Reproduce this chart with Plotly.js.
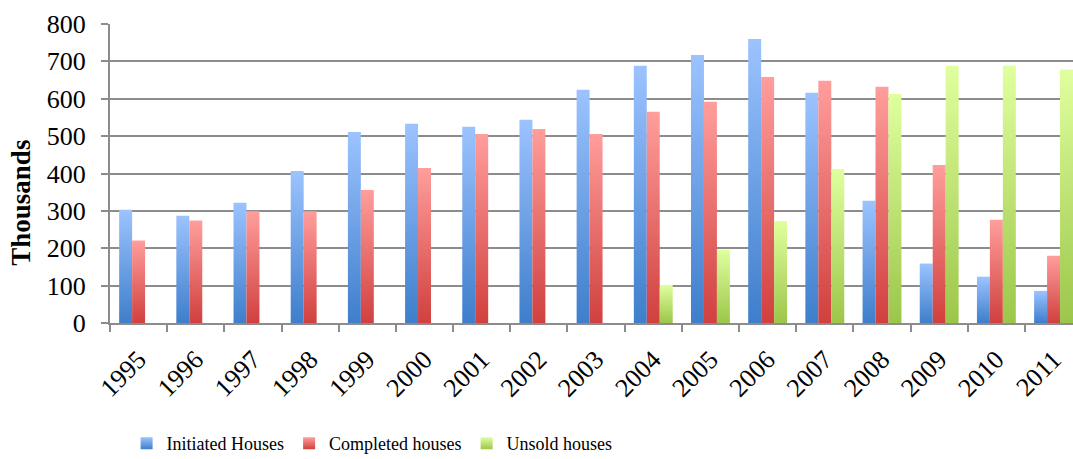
<!DOCTYPE html>
<html>
<head>
<meta charset="utf-8">
<script src="https://cdn.plot.ly/plotly-3.0.1.min.js"></script>
<style>
html,body{margin:0;padding:0;background:#fff;}
#chart{width:1073px;height:459px;}
</style>
</head>
<body>
<div id="chart"></div>
<script>
var years = ['1995','1996','1997','1998','1999','2000','2001','2002','2003','2004','2005','2006','2007','2008','2009','2010','2011'];
var initiatedHouses = [303, 287, 322, 407, 511, 533, 525, 544, 624, 688, 717, 760, 616, 327, 159, 124, 86];
var completedHouses = [221, 274, 299, 299, 356, 415, 506, 519, 506, 565, 592, 658, 648, 632, 423, 276, 180];
var unsoldHouses = [null, null, null, null, null, null, null, null, null, 102, 196, 273, 412, 613, 688, 688, 678];
var seriesNames = ['Initiated Houses', 'Completed houses', 'Unsold houses'];
var yTicks = [0, 100, 200, 300, 400, 500, 600, 700, 800];

var gradients = [
  {id: 'gBlue', top: '#9CC3FF', bottom: '#3E7ECB', solid: '#6A9DE8'},
  {id: 'gRed', top: '#FF9E9C', bottom: '#D0403E', solid: '#E86E6C'},
  {id: 'gGreen', top: '#E0FF9E', bottom: '#9CC64A', solid: '#C0E07A'}
];

var serif = 'Liberation Serif, DejaVu Serif, serif';
var seriesValues = [initiatedHouses, completedHouses, unsoldHouses];
var data = seriesValues.map(function (vals, i) {
  return {
    type: 'bar',
    name: seriesNames[i],
    x: years,
    y: vals,
    marker: {color: gradients[i].solid, line: {width: 0}},
    hoverinfo: 'x+y+name'
  };
});

var layout = {
  width: 1073,
  height: 459,
  margin: {l: 110, r: 0, t: 24, b: 135.5, autoexpand: false},
  paper_bgcolor: '#ffffff',
  plot_bgcolor: '#ffffff',
  barmode: 'group',
  bargap: 0.32,
  bargroupgap: 0,
  showlegend: true,
  legend: {
    orientation: 'h',
    xref: 'container',
    yref: 'container',
    x: 0.118,
    xanchor: 'left',
    y: 0.074,
    yanchor: 'top',
    font: {family: serif, size: 18, color: '#000'},
    itemwidth: 30,
    traceorder: 'normal'
  },
  xaxis: {
    type: 'category',
    range: [-0.5, 16.34],
    automargin: false,
    tickangle: -45,
    tickfont: {family: serif, size: 26, color: '#000'},
    ticklabelstandoff: 9,
    ticks: 'outside',
    tickson: 'boundaries',
    ticklen: 7,
    tickwidth: 2,
    tickcolor: '#8c8c8c',
    showline: true,
    linecolor: '#8c8c8c',
    linewidth: 2,
    showgrid: false,
    zeroline: false
  },
  yaxis: {
    range: [0, 800],
    automargin: false,
    tickvals: yTicks,
    tickfont: {family: serif, size: 26, color: '#000'},
    ticklabelstandoff: 10,
    ticks: 'outside',
    ticklen: 7,
    tickwidth: 2,
    tickcolor: '#8c8c8c',
    showline: true,
    linecolor: '#8c8c8c',
    linewidth: 2,
    showgrid: true,
    gridcolor: '#8c8c8c',
    gridwidth: 2,
    zeroline: false
  },
  annotations: [{
    text: '<b>Thousands</b>',
    textangle: -90,
    xref: 'paper', yref: 'paper',
    x: (21 - 110) / 963, y: (323.5 - 203) / 299.5,
    xanchor: 'center', yanchor: 'middle',
    showarrow: false,
    font: {family: serif, size: 27, color: '#000'}
  }]
};

Plotly.newPlot('chart', data, layout, {displayModeBar: false, staticPlot: true}).then(function (gd) {
  var svgNS = 'http://www.w3.org/2000/svg';
  var defs = gd.querySelector('svg.main-svg defs');
  gradients.forEach(function (g) {
    var lg = document.createElementNS(svgNS, 'linearGradient');
    lg.setAttribute('id', g.id);
    lg.setAttribute('x1', '0'); lg.setAttribute('y1', '0');
    lg.setAttribute('x2', '0'); lg.setAttribute('y2', '1');
    var s1 = document.createElementNS(svgNS, 'stop');
    s1.setAttribute('offset', '0'); s1.setAttribute('stop-color', g.top);
    var s2 = document.createElementNS(svgNS, 'stop');
    s2.setAttribute('offset', '1'); s2.setAttribute('stop-color', g.bottom);
    lg.appendChild(s1); lg.appendChild(s2);
    defs.appendChild(lg);
  });
  var traces = gd.querySelectorAll('.barlayer .trace.bars');
  traces.forEach(function (t, i) {
    t.querySelectorAll('path').forEach(function (p) {
      p.style.fill = 'url(#' + gradients[i].id + ')';
    });
  });
  var legTraces = gd.querySelectorAll('.legend .traces');
  legTraces.forEach(function (t, i) {
    t.querySelectorAll('.legendpoints path').forEach(function (p) {
      p.style.fill = 'url(#' + gradients[i].id + ')';
    });
  });
});
</script>
</body>
</html>
